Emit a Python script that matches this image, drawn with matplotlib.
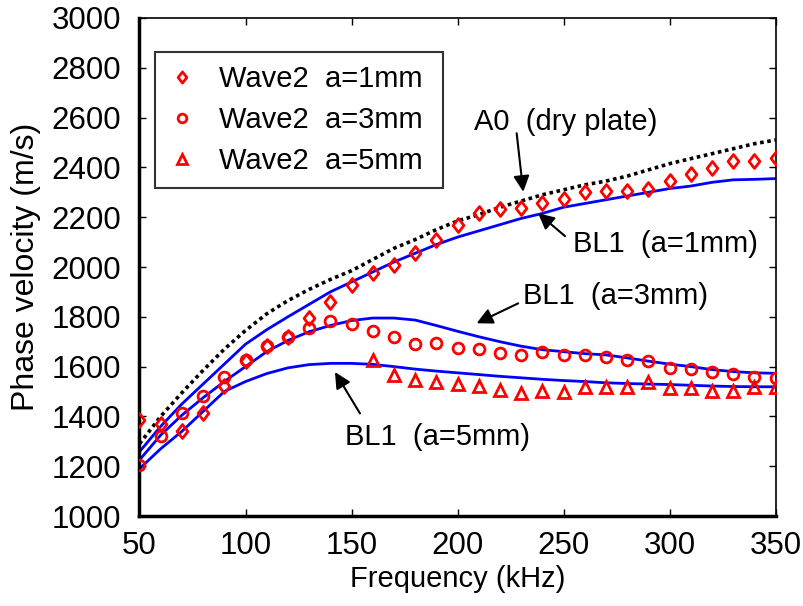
import matplotlib
matplotlib.use("Agg")
import matplotlib.pyplot as plt
import numpy as np
from matplotlib.path import Path

plt.rcParams['font.family'] = ['Liberation Sans', 'DejaVu Sans']

# ---------------- data ----------------
freq = [50, 60, 70, 80, 90, 100, 110, 120, 130, 140, 150, 160, 170, 180, 190,
        200, 210, 220, 230, 240, 250, 260, 270, 280, 290, 300, 310, 320, 330, 340, 350]

wave2_a1 = [1385, 1368, 1341, 1415, 1523, 1622, 1683, 1720, 1794, 1861, 1927, 1976,
            2010, 2055, 2108, 2167, 2215, 2231, 2235, 2256, 2274, 2300, 2305, 2305,
            2314, 2344, 2372, 2398, 2426, 2426, 2436]

wave2_a3 = [1205, 1321, 1412, 1482, 1560, 1625, 1684, 1720, 1754, 1784, 1771, 1744,
            1719, 1691, 1696, 1676, 1670, 1656, 1648, 1660, 1647, 1647, 1640, 1626,
            1622, 1595, 1591, 1578, 1570, 1559, 1556]

freq_a5 = [160, 170, 180, 190, 200, 210, 220, 230, 240, 250, 260, 270, 280, 290,
           300, 310, 320, 330, 340, 350]
wave2_a5 = [1627, 1566, 1546, 1540, 1530, 1524, 1505, 1493, 1501, 1499, 1518, 1518,
            1519, 1539, 1513, 1514, 1503, 1503, 1519, 1519]

bl1_a1 = [1258, 1360, 1450, 1530, 1610, 1690, 1748, 1800, 1850, 1900, 1940, 1980,
          2020, 2055, 2090, 2120, 2145, 2170, 2195, 2215, 2240, 2255, 2270, 2285,
          2300, 2315, 2325, 2340, 2350, 2352, 2355]

bl1_a3 = [1225, 1325, 1405, 1475, 1540, 1600, 1660, 1705, 1740, 1765, 1785, 1795,
          1795, 1787, 1765, 1742, 1720, 1700, 1682, 1668, 1660, 1652, 1647, 1635,
          1622, 1610, 1600, 1588, 1580, 1575, 1573]

bl1_a5 = [1190, 1270, 1340, 1420, 1500, 1540, 1572, 1595, 1608, 1613, 1613, 1609,
          1600, 1590, 1582, 1575, 1568, 1561, 1555, 1549, 1544, 1540, 1535, 1532,
          1530, 1528, 1525, 1522, 1520, 1519, 1519]

a0_dry = [1290, 1400, 1495, 1585, 1670, 1745, 1812, 1865, 1910, 1950, 1985, 2030,
          2075, 2110, 2150, 2185, 2210, 2240, 2265, 2290, 2310, 2330, 2345, 2365,
          2390, 2415, 2435, 2455, 2475, 2495, 2510]

legend_labels = ['Wave2  a=1mm', 'Wave2  a=3mm', 'Wave2  a=5mm']
xticks = [50, 100, 150, 200, 250, 300, 350]
yticks = [1000, 1200, 1400, 1600, 1800, 2000, 2200, 2400, 2600, 2800, 3000]

# ---------------- figure ----------------
fig = plt.figure(figsize=(8.04, 6.06), dpi=100)
ax = fig.add_axes([0.1735, 0.1485, 0.7911, 0.8218])

FS = 21
TFS = 22.5

blue = '#0000ff'
red = '#ff0000'

ax.plot(freq, a0_dry, color='black', lw=2.6, linestyle=(0, (1, 1)),
        dash_capstyle='butt', zorder=3)
for ys in (bl1_a1, bl1_a3, bl1_a5):
    ax.plot(freq, ys, color=blue, lw=2.0, zorder=2)

diamond = Path([(0, 1), (0.78, 0), (0, -1), (-0.78, 0), (0, 1)],
               [Path.MOVETO, Path.LINETO, Path.LINETO, Path.LINETO, Path.CLOSEPOLY])

h1, = ax.plot(freq, wave2_a1, linestyle='none', marker=diamond, ms=10,
              mfc='none', mec=red, mew=2.0, zorder=4)
h2, = ax.plot(freq, wave2_a3, linestyle='none', marker='o', ms=7.8,
              mfc='none', mec=red, mew=2.0, zorder=4)
h3, = ax.plot(freq_a5, wave2_a5, linestyle='none', marker='^', ms=8.5,
              mfc='none', mec=red, mew=2.0, zorder=4)

ax.set_xlim(50, 350)
ax.set_ylim(1000, 3000)
ax.set_xticks(xticks)
ax.set_yticks(yticks)
ax.tick_params(direction='in', top=True, right=True, length=5, width=1,
               labelsize=TFS)
ax.tick_params(axis='y', pad=13)
ax.tick_params(axis='x', pad=11)
for s in ('left', 'bottom'):
    ax.spines[s].set_linewidth(2.5)
for s in ('top', 'right'):
    ax.spines[s].set_linewidth(1.2)

ax.set_xlabel('Frequency (kHz)', fontsize=FS, labelpad=3)
ax.set_ylabel('Phase velocity (m/s)', fontsize=23, labelpad=8)

leg = ax.legend([h1, h2, h3], legend_labels, loc='upper left',
                bbox_to_anchor=(0.024, 0.5, 0.453, 0.432), mode='expand',
                fontsize=FS, frameon=True,
                fancybox=False, edgecolor='black', handlelength=1.0,
                handletextpad=0.75, borderpad=0.45, labelspacing=0.45,
                markerscale=0.8, borderaxespad=0.0)
leg.get_frame().set_linewidth(1.5)

arrow = dict(arrowstyle='-|>', color='black', lw=1.5, mutation_scale=24,
             shrinkA=0, shrinkB=0)

ax.text(207.7, 2582, 'A0  (dry plate)', fontsize=FS, ha='left', va='center')
ax.annotate('', xy=(231, 2302), xytext=(227.9, 2537), arrowprops=arrow)

ax.text(254.4, 2092, 'BL1  (a=1mm)', fontsize=FS, ha='left', va='center')
ax.annotate('', xy=(238, 2216), xytext=(250.7, 2124), arrowprops=arrow)

ax.text(230.9, 1884, 'BL1  (a=3mm)', fontsize=FS, ha='left', va='center')
ax.annotate('', xy=(209, 1774), xytext=(228.6, 1854), arrowprops=arrow)

ax.text(146.9, 1317, 'BL1  (a=5mm)', fontsize=FS, ha='left', va='center')
ax.annotate('', xy=(142.2, 1578), xytext=(154, 1412), arrowprops=arrow)

fig.savefig('out.png', dpi=100)
